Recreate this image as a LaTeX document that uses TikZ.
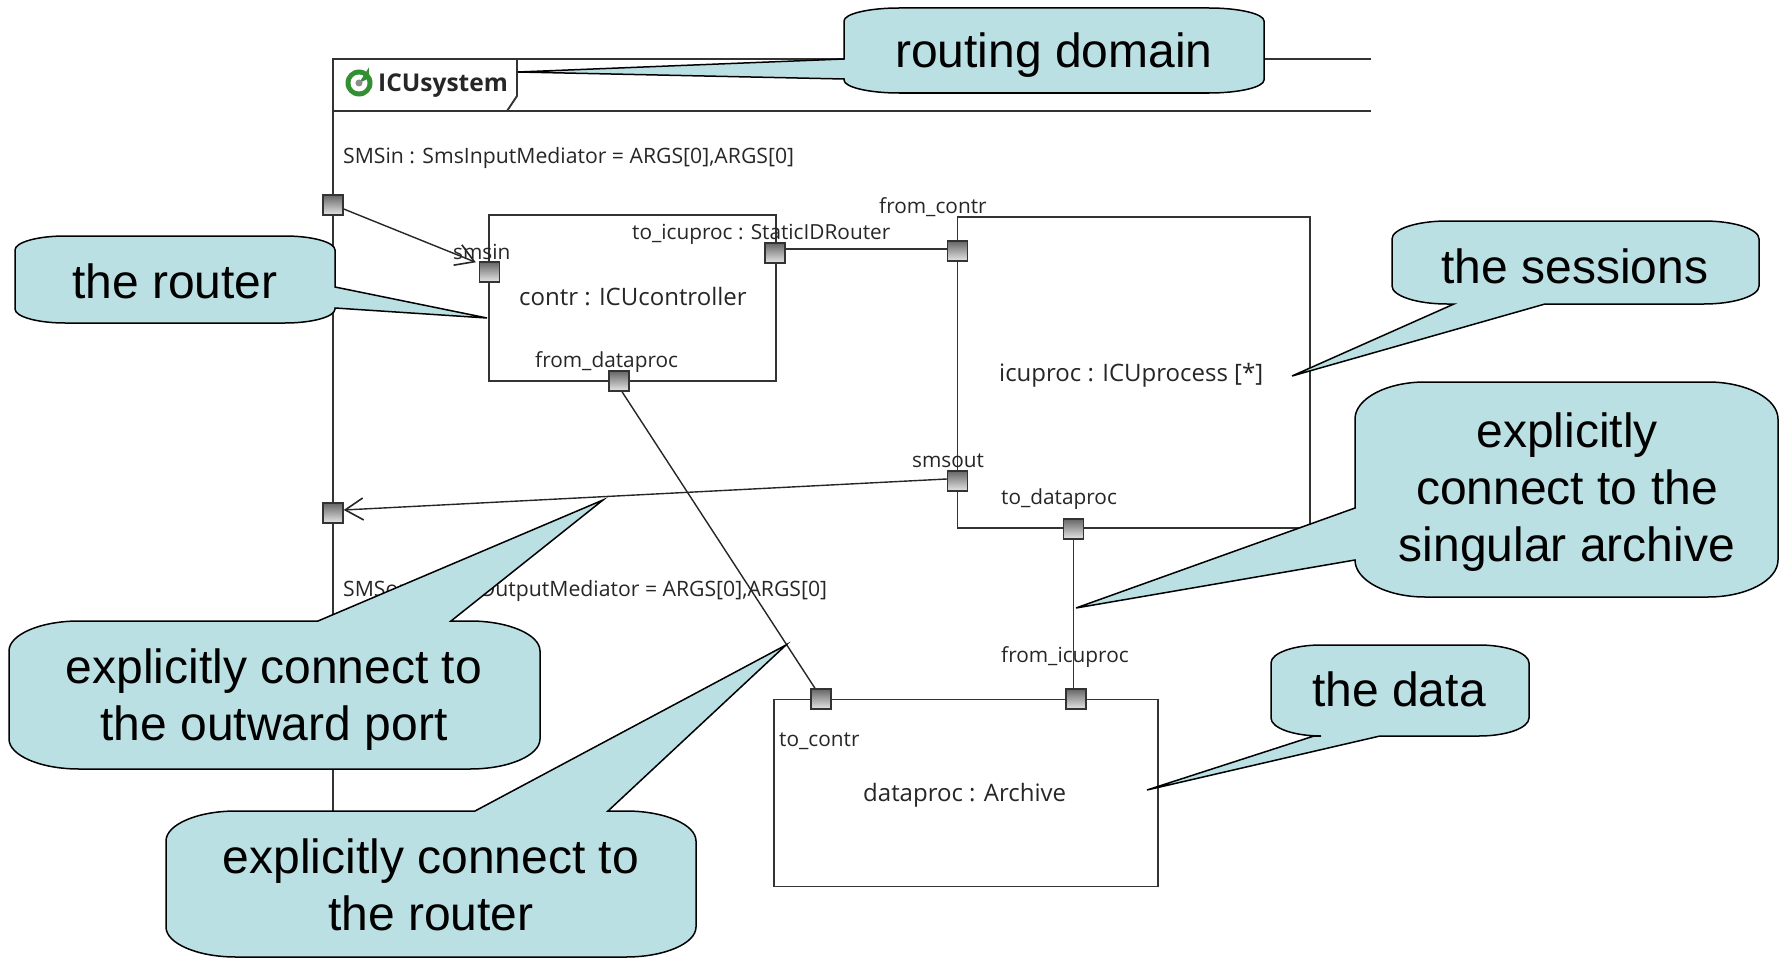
\documentclass[tikz,border=0pt]{standalone}
\usepackage{fontspec}
\setmainfont{Liberation Sans}
\newfontfamily\uifont{Open Sans}
\usetikzlibrary{arrows.meta}
\definecolor{bub}{HTML}{BBE0E3}
\definecolor{linec}{HTML}{333333}
\newcommand\bubbox[6]{\def\xa{#1}\def\ya{#2}\def\xb{#3}\def\yb{#4}\def\rx{#5}\def\ry{#6}}
\newcommand\bubpath[4]{%
 \filldraw[bubble] ({\xa+\rx},\ya) #1 -- ({\xb-\rx},\ya)
 .. controls ({\xb-0.45*\rx},\ya) and (\xb,{\ya+0.45*\ry}) .. (\xb,{\ya+\ry})
 #2 -- (\xb,{\yb-\ry})
 .. controls (\xb,{\yb-0.45*\ry}) and ({\xb-0.45*\rx},\yb) .. ({\xb-\rx},\yb)
 #3 -- ({\xa+\rx},\yb)
 .. controls ({\xa+0.45*\rx},\yb) and (\xa,{\yb-0.45*\ry}) .. (\xa,{\yb-\ry})
 #4 -- (\xa,{\ya+\ry})
 .. controls (\xa,{\ya+0.45*\ry}) and ({\xa+0.45*\rx},\ya) .. cycle;}
\tikzset{
 bubble/.style={fill=bub,draw=black,line width=1.5pt,line join=miter},
 bubtext/.style={font=\fontsize{48}{57}\selectfont,align=center,inner sep=0pt,text=black},
 ui/.style={font=\uifont\fontsize{20.8}{24}\selectfont,inner sep=0pt,anchor=west,text=black!85},
 uiframe/.style={ui,font=\uifont\fontsize{21.2}{24}\selectfont},
 uibox/.style={ui,font=\uifont\fontsize{24}{26}\selectfont},
 box/.style={draw=linec,line width=1.9pt,fill=white,inner sep=0pt},
 wire/.style={draw=linec,line width=1.9pt},
 thin wire/.style={draw=black!85,line width=1.4pt},
 port/.style={draw=linec,line width=1.4pt,minimum size=20pt,inner sep=0pt,top color=black!60,bottom color=black!10},
 open/.style={-{Straight Barb[length=18pt,width=22pt,line width=1.6pt]}}
}
\begin{document}
\begin{tikzpicture}[x=1pt,y=-1pt]
\useasboundingbox (0,0) rectangle (1781,958);
% frame
\draw[wire] (1371,59) -- (333,59) -- (333,958);
\draw[wire] (333,111) -- (1371,111);
\draw[wire] (517,59) -- (517,96) -- (507,111);
% boxes
\node[box,minimum width=287pt,minimum height=166pt] (contr) at (632.5,298) {};
\node[box,minimum width=352.5pt,minimum height=311pt] (icuproc) at (1133.7,372.5) {};
\node[box,minimum width=384pt,minimum height=187pt] (dataproc) at (965.6,793) {};
% ports
\node[port] (SMSin) at (333,205) {};
\node[port] (smsin) at (489.5,272) {};
\node[port] (toicu) at (775,253) {};
\node[port] (fromdata) at (619,381) {};
\node[port] (fromcontr) at (957.5,251) {};
\node[port] (smsout) at (957.5,481) {};
\node[port] (todata) at (1073.5,529) {};
\node[port] (SMSout) at (333,513) {};
\node[port] (tocontr) at (821,699) {};
\node[port] (fromicu) at (1076,699) {};
% connectors
\draw[thin wire,open] ([yshift=-4pt]SMSin.east) -- ([xshift=-3pt,yshift=-1pt]smsin.north west);
\draw[wire] ([yshift=4pt]toicu.east) -- ([yshift=4pt]toicu.east -| fromcontr.west);
\draw[thin wire,open] ([yshift=2pt]smsout.west) -- ([yshift=3pt]SMSout.east);
\draw[thin wire] (fromdata.south) ++(3pt,0) -- ([xshift=-6pt]tocontr.north);
\draw[wire] (todata.south) -- (todata.south |- fromicu.north);
% diagram texts
\node[inner sep=0pt,circle,minimum size=27pt,fill=green!45!black!80] (icon) at (359,83) {};
\fill[white] (icon.center) circle[radius=8.5pt];
\fill[green!45!black!80] (icon.center) -- ++(25:11pt) -- ++(0,11pt) -- cycle;
\node[inner sep=0pt,circle,minimum size=7pt,fill=black!45] (icondot) at (icon.center) {};
\node[ui,font=\uifont\bfseries\fontsize{24.5}{26}\selectfont] (tsys) at (378,86) {ICUsystem};
\node[uiframe] (t1) at (343,158) {SMSin : SmsInputMediator = ARGS[0],ARGS[0]};
\node[ui] (t2) at (453,252) {smsin};
\node[ui] (t3) at (632,234) {to\_icuproc : StaticIDRouter};
\node[uibox] (t4) at (519,297) {contr : ICUcontroller};
\node[ui] (t5) at (535,362) {from\_dataproc};
\node[ui] (t6) at (879,207) {from\_contr};
\node[uibox] (t7) at (999,375) {icuproc : ICUprocess [*]};
\node[ui] (t8) at (912,461) {smsout};
\node[ui] (t9) at (1001,499) {to\_dataproc};
\node[uiframe] (t10) at (343,591) {SMSout : SmsOutputMediator = ARGS[0],ARGS[0]};
\node[ui] (t11) at (1001,657) {from\_icuproc};
\node[ui] (t12) at (779,741) {to\_contr};
\node[uibox] (t13) at (863,795) {dataproc : Archive};
% callouts
\bubbox{844}{8}{1264}{93}{55}{13}
\bubpath{}{}{}{-- (844,79) -- (518,72) -- (844,59)}
\node[bubtext] (c1) at (1054,55) {routing domain};
\bubbox{15}{236}{335}{323}{50}{14}
\bubpath{}{-- (335,287) -- (487,318) -- (335,308)}{}{}
\node[bubtext] (c2) at (175,281) {the router};
\bubbox{1392}{221}{1759}{304}{55}{18}
\bubpath{}{}{-- (1545,304) -- (1292,376) -- (1454,304)}{}
\node[bubtext] (c3) at (1575,266) {the sessions};
\bubbox{1355}{382}{1778}{597}{70}{37}
\bubpath{}{}{}{-- (1355,560) -- (1076,608) -- (1355,508)}
\node[bubtext] (c4) at (1567,492) {explicitly\\connect to the\\singular archive};
\bubbox{9}{621}{540}{769}{70}{30}
\bubpath{-- (318,621) -- (603,500) -- (451,621)}{}{}{}
\node[bubtext] (c5) at (274,700) {explicitly connect to\\the outward port};
\bubbox{166}{811}{696}{957}{70}{30}
\bubpath{-- (475,811) -- (786,645) -- (608,811)}{}{}{}
\node[bubtext] (c6) at (431,885) {explicitly connect to\\the router};
\bubbox{1271}{645}{1529}{736}{50}{18}
\bubpath{}{}{-- (1380,736) -- (1147,790) -- (1314,736)}{}
\node[bubtext] (c7) at (1399,689) {the data};
\end{tikzpicture}
\end{document}
